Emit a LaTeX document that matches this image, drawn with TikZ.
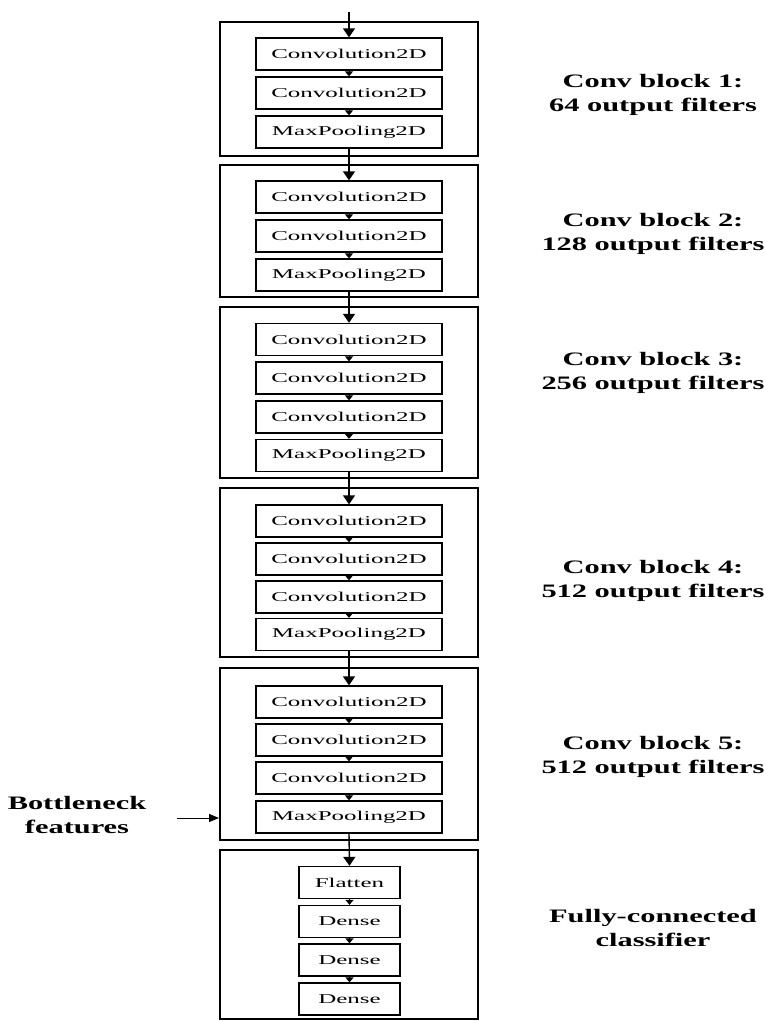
\documentclass[tikz,border=0pt]{standalone}
\usepackage{fontspec}
\setmainfont{Liberation Serif}
\newfontfamily\boxfont[FakeStretch=1.85]{Liberation Serif}
\newfontfamily\labfont[FakeStretch=1.6]{Liberation Serif}
\usetikzlibrary{arrows.meta}

\begin{document}
\begin{tikzpicture}[x=1pt,y=1pt,
    block/.style={draw, line width=2pt, minimum width=258pt, inner sep=0pt},
    layer/.style={draw, line width=1.3pt, minimum width=186pt, minimum height=32pt, inner sep=0pt,
        font=\boxfont\fontsize{13.5}{16}\selectfont},
    fclayer/.style={layer, minimum width=101pt},
    blocklabel/.style={align=center, inner sep=0pt, font=\labfont\bfseries\fontsize{19}{24}\selectfont},
    flow/.style={line width=1.4pt, -{Triangle[width=12pt,length=9pt]}},
    link/.style={line width=1pt, -{Triangle[width=8pt,length=5pt]}}]
            \useasboundingbox (0,0) rectangle (764,-1021);
            % outer blocks
            \node [block, minimum height=134pt] (blk1) at (349,-89) {};
            \node [block, minimum height=132pt] (blk2) at (349,-231) {};
            \node [block, minimum height=171pt] (blk3) at (349,-392.5) {};
            \node [block, minimum height=169pt] (blk4) at (349,-572.5) {};
            \node [block, minimum height=172pt] (blk5) at (349,-754) {};
            \node [block, minimum height=169pt] (blk6) at (349,-934.5) {};
            % block 1
            \node [layer] (c11) at (349,-54) {Convolution2D};
            \node [layer] (c12) at (349,-93) {Convolution2D};
            \node [layer] (mp1) at (349,-132) {MaxPooling2D};
            % block 2
            \node [layer] (c21) at (349,-197) {Convolution2D};
            \node [layer] (c22) at (349,-236) {Convolution2D};
            \node [layer] (mp2) at (349,-275) {MaxPooling2D};
            % block 3
            \node [layer] (c31) at (349,-339.5) {Convolution2D};
            \node [layer] (c32) at (349,-378) {Convolution2D};
            \node [layer] (c33) at (349,-417) {Convolution2D};
            \node [layer] (mp3) at (349,-455.5) {MaxPooling2D};
            % block 4
            \node [layer] (c41) at (349,-521) {Convolution2D};
            \node [layer] (c42) at (349,-559) {Convolution2D};
            \node [layer] (c43) at (349,-597) {Convolution2D};
            \node [layer] (mp4) at (349,-634.5) {MaxPooling2D};
            % block 5
            \node [layer] (c51) at (349,-702) {Convolution2D};
            \node [layer] (c52) at (349,-740) {Convolution2D};
            \node [layer] (c53) at (349,-778) {Convolution2D};
            \node [layer] (mp5) at (349,-817) {MaxPooling2D};
            % classifier
            \node [fclayer] (flat) at (349.5,-882.5) {Flatten};
            \node [fclayer] (d1) at (349.5,-921.5) {Dense};
            \node [fclayer] (d2) at (349.5,-960) {Dense};
            \node [fclayer] (d3) at (349.5,-999) {Dense};
            % arrows inside the blocks
            \draw [link] (c11) -- (c12);
            \draw [link] (c12) -- (mp1);
            \draw [link] (c21) -- (c22);
            \draw [link] (c22) -- (mp2);
            \draw [link] (c31) -- (c32);
            \draw [link] (c32) -- (c33);
            \draw [link] (c33) -- (mp3);
            \draw [link] (c41) -- (c42);
            \draw [link] (c42) -- (c43);
            \draw [link] (c43) -- (mp4);
            \draw [link] (c51) -- (c52);
            \draw [link] (c52) -- (c53);
            \draw [link] (c53) -- (mp5);
            \draw [link] (flat) -- (d1);
            \draw [link] (d1) -- (d2);
            \draw [link] (d2) -- (d3);
            % arrows between the blocks
            \coordinate (input) at (349,-12);
            \draw [flow] (input) -- (c11.north);
            \draw [flow] (mp1.south) -- (c21.north);
            \draw [flow] (mp2.south) -- (c31.north);
            \draw [flow] (mp3.south) -- (c41.north);
            \draw [flow] (mp4.south) -- (c51.north);
            \draw [flow] (mp5.south) -- (flat.north);
            % labels
            \node [blocklabel] (lbl1) at (653,-95) {Conv block 1:\\64 output filters};
            \node [blocklabel] (lbl2) at (653,-234) {Conv block 2:\\128 output filters};
            \node [blocklabel] (lbl3) at (653,-372.5) {Conv block 3:\\256 output filters};
            \node [blocklabel] (lbl4) at (653,-581) {Conv block 4:\\512 output filters};
            \node [blocklabel] (lbl5) at (653,-757) {Conv block 5:\\512 output filters};
            \node [blocklabel] (lbl6) at (653,-928) {Fully-connected\\classifier};
            \node [blocklabel] (bneck) at (77,-815) {Bottleneck\\features};
            \coordinate (bstart) at (177,-818);
            \draw [line width=1pt, -{Triangle[width=8pt,length=10pt]}] (bstart) -- (bstart -| blk5.west);
\end{tikzpicture}
\end{document}
